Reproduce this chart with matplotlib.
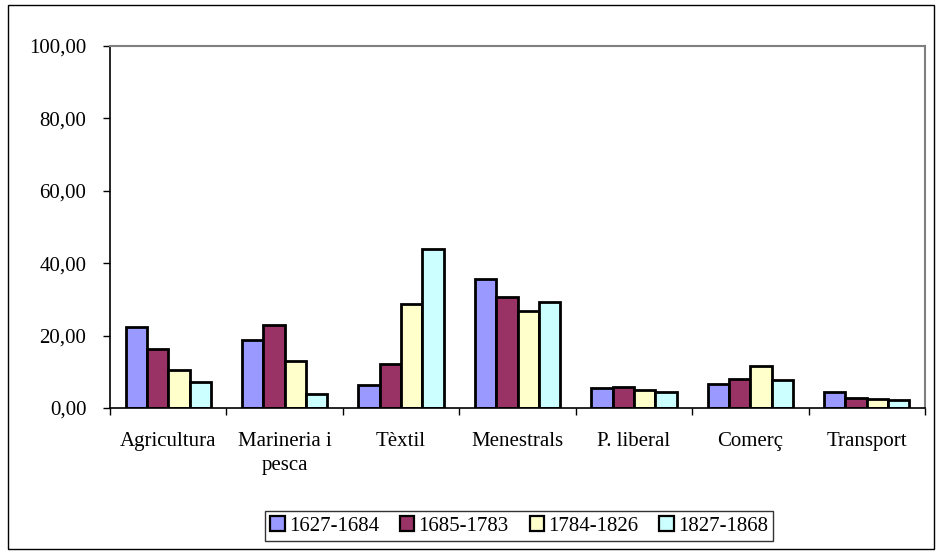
import numpy as np
import matplotlib.pyplot as plt
from matplotlib.patches import Rectangle

# Categories and series
categories = ['Agricultura', 'Marineria i\npesca', 'Tèxtil', 'Menestrals',
              'P. liberal', 'Comerç', 'Transport']
periods = ['1627-1684', '1685-1783', '1784-1826', '1827-1868']
s1627 = [22.4, 18.8, 6.4, 35.5, 5.4, 6.5, 4.5]
s1685 = [16.3, 23.0, 12.1, 30.6, 5.7, 7.9, 2.9]
s1784 = [10.5, 13.1, 28.6, 26.8, 5.0, 11.6, 2.5]
s1827 = [7.3, 3.9, 43.8, 29.4, 4.3, 7.6, 2.3]
yticks = [0, 20, 40, 60, 80, 100]
colors = ['#9999FF', '#993366', '#FFFFCC', '#CCFFFF']

plt.rcParams['font.family'] = ['Liberation Serif', 'DejaVu Serif']

fig = plt.figure(figsize=(9.36, 5.51), dpi=100)
ax = fig.add_axes([110 / 936, 1 - 408 / 551, 815 / 936, 362 / 551])

# outer chart border
fig.patches.append(Rectangle((8 / 936, 2 / 551), 926 / 936, 544 / 551,
                             transform=fig.transFigure, fill=False,
                             edgecolor='black', linewidth=1.0))

num = np.arange(len(categories))
width = 0.183
series = [s1627, s1685, s1784, s1827]
for i, vals in enumerate(series):
    ax.bar(num + (i - 1.5) * width, vals, width, color=colors[i],
           edgecolor='black', linewidth=2.0, label=periods[i])

ax.set_xlim(-0.5, len(categories) - 0.5)
ax.set_ylim(0, 100)
ax.set_yticks(yticks)
ax.set_yticklabels([('%.2f' % v).replace('.', ',') for v in yticks])
ax.set_xticks(num)
ax.set_xticklabels(categories, linespacing=1.4)
ax.set_xticks(np.arange(-0.5, len(categories)), minor=True)
ax.tick_params(axis='x', which='major', length=0, pad=17, labelsize=15)
ax.tick_params(axis='x', which='minor', length=5, width=1)
ax.tick_params(axis='y', length=5, width=1, labelsize=15, pad=12)

for side in ['top', 'right']:
    ax.spines[side].set_color('#808080')
    ax.spines[side].set_linewidth(1.5)
for side in ['left', 'bottom']:
    ax.spines[side].set_color('black')
    ax.spines[side].set_linewidth(1.2)

leg = ax.legend(loc='center', bbox_to_anchor=(519 / 936, 1 - 526 / 551),
                bbox_transform=fig.transFigure, ncol=4, fontsize=15,
                frameon=True, fancybox=False, edgecolor='black',
                handlelength=0.7, handleheight=0.7, handletextpad=0.2,
                columnspacing=1.0, borderpad=0.25)
leg.get_frame().set_linewidth(1.0)
for h in leg.legend_handles:
    h.set_linewidth(1.6)

fig.savefig('out.png', dpi=100)
